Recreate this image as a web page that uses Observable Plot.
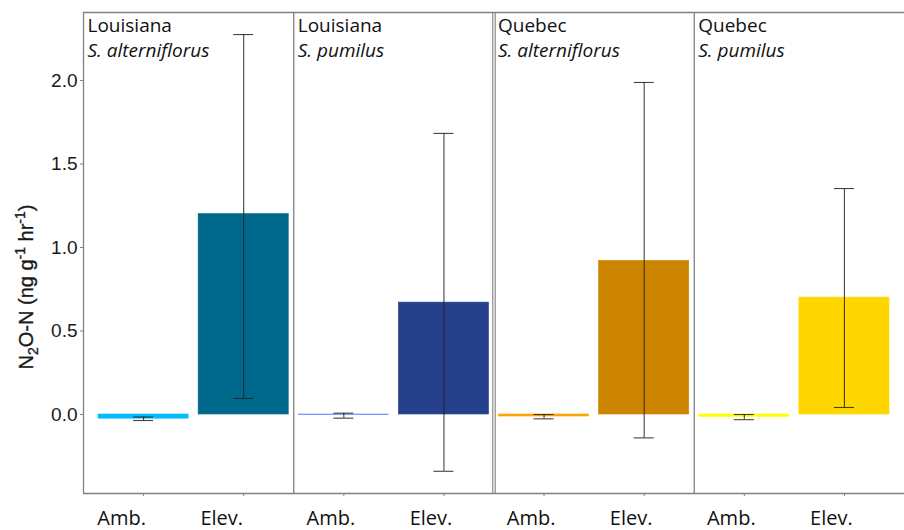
<!DOCTYPE html>
<html>
<head>
<meta charset="utf-8">
<script src="https://cdn.jsdelivr.net/npm/d3@7"></script>
<script src="https://cdn.jsdelivr.net/npm/@observablehq/plot@0.6"></script>
<style>
  html, body { margin: 0; padding: 0; background: #fff; }
  #chart svg { display: block; }
</style>
</head>
<body>
<div id="chart"></div>
<script>
// ---- data ----
const sites = ["Louisiana", "Louisiana", "Quebec", "Quebec"];
const species = ["S. alterniflorus", "S. pumilus", "S. alterniflorus", "S. pumilus"];
const treatments = ["Amb.", "Elev."];
// order: panel1 Amb, panel1 Elev, panel2 Amb, panel2 Elev, ...
const means = [-0.025, 1.20, -0.004, 0.67, -0.012, 0.92, -0.014, 0.70];
const lower = [-0.036, 0.096, -0.022, -0.34, -0.026, -0.14, -0.031, 0.042];
const upper = [-0.015, 2.275, 0.008, 1.683, 0.0, 1.988, 0.0, 1.353];
const colors = ["#00BFFF", "#00688B", "#6A8CF5", "#27408B", "#FFA500", "#CD8500", "#FFFF00", "#FFD700"];
const yTicks = [0, 0.5, 1.0, 1.5, 2.0];
const yDomain = [-0.473, 2.407];

// ---- derived tables ----
const rows = means.map((m, i) => ({
  i, panel: Math.floor(i / 2), treatment: treatments[i % 2],
  mean: m, lo: lower[i], hi: upper[i], color: colors[i]
}));
const xDomain = [-0.6, rows.length - 0.4];
const panels = sites.map((s, p) => ({p, site: s, species: species[p], left: p === 0 ? xDomain[0] : p * 2 - 0.5}));
const singleSeps = panels.filter(d => d.p === 1 || d.p === 3).map(d => d.left);
const doubleSeps = panels.filter(d => d.p === 2).map(d => d.left);
const frameColor = "#808080";
const half = 0.45, cap = 0.1;
const labelFont = "Open Sans, sans-serif";

const svg = Plot.plot({
  width: 904,
  height: 530,
  marginTop: 12,
  marginBottom: 37,
  marginLeft: 83,
  marginRight: 0,
  style: {fontFamily: "Liberation Sans, Arial, sans-serif", background: "white", color: "#1a1a1a"},
  x: {domain: xDomain, axis: null},
  y: {domain: yDomain, axis: null},
  color: {type: "identity"},
  marks: [
    Plot.rectY(rows, {x1: d => d.i - half, x2: d => d.i + half, y1: 0, y2: "mean", fill: "color", stroke: "color", strokeWidth: 0.6}),
    Plot.ruleX(rows, {x: "i", y1: "lo", y2: "hi", stroke: "#222", strokeWidth: 1.1, strokeOpacity: 0.85}),
    Plot.ruleY(rows, {x1: d => d.i - cap, x2: d => d.i + cap, y: "lo", stroke: "#222", strokeWidth: 1.1, strokeOpacity: 0.85}),
    Plot.ruleY(rows, {x1: d => d.i - cap, x2: d => d.i + cap, y: "hi", stroke: "#222", strokeWidth: 1.1, strokeOpacity: 0.85}),
    // panel frame
    Plot.ruleY(yDomain, {stroke: frameColor, strokeWidth: 1.3}),
    Plot.ruleX([xDomain[0]], {stroke: frameColor, strokeWidth: 1.3}),
    Plot.ruleX(singleSeps, {stroke: frameColor, strokeWidth: 1.3}),
    Plot.ruleX(doubleSeps, {stroke: frameColor, strokeWidth: 1.1, dx: -1.2}),
    Plot.ruleX(doubleSeps, {stroke: frameColor, strokeWidth: 1.1, dx: 1.2}),
    // axes
    Plot.axisY({ticks: yTicks, tickFormat: d3.format(".1f"), tickSize: 3, tickPadding: 3, fontSize: 19, label: null, stroke: frameColor, fill: "#1a1a1a"}),
    Plot.axisX({ticks: rows.map(d => d.i), tickFormat: () => "", tickSize: 3, label: null, stroke: frameColor}),
    // treatment labels (placed slightly left of ticks, as in the original)
    Plot.text(rows.filter(d => d.panel === 0), {x: "i", text: "treatment", frameAnchor: "bottom", lineAnchor: "top", dy: 17, dx: -22, fontSize: 20, fontFamily: labelFont, fill: "#111"}),
    Plot.text(rows.filter(d => d.panel !== 0), {x: "i", text: "treatment", frameAnchor: "bottom", lineAnchor: "top", dy: 17, dx: -13, fontSize: 20, fontFamily: labelFont, fill: "#111"}),
    // panel headers
    Plot.text(panels, {x: "left", frameAnchor: "top", text: "site", textAnchor: "start", lineAnchor: "top", dx: 4, dy: 6, fontSize: 19, fontFamily: labelFont, fill: "#111"}),
    Plot.text(panels, {x: "left", frameAnchor: "top", text: "species", textAnchor: "start", lineAnchor: "top", dx: 4, dy: 31, fontSize: 19, fontFamily: labelFont, fontStyle: "italic", fill: "#111"})
  ]
});

// y-axis title with sub/superscripts
const t = d3.select(svg).append("text")
  .attr("transform", "translate(33,287) rotate(-90)")
  .attr("text-anchor", "middle")
  .attr("font-family", "Liberation Sans, Arial, sans-serif")
  .attr("font-size", 20)
  .attr("fill", "#1a1a1a")
  .attr("stroke", "#1a1a1a")
  .attr("stroke-width", 0.35);
t.append("tspan").text("N");
t.append("tspan").attr("font-size", 14).attr("dy", 5).text("2");
t.append("tspan").attr("dy", -5).text("O-N (ng g");
t.append("tspan").attr("font-size", 14).attr("dy", -8).text("-1");
t.append("tspan").attr("dy", 8).text(" hr");
t.append("tspan").attr("font-size", 14).attr("dy", -8).text("-1");
t.append("tspan").attr("dy", 8).text(")");

document.getElementById("chart").appendChild(svg);
</script>
</body>
</html>
